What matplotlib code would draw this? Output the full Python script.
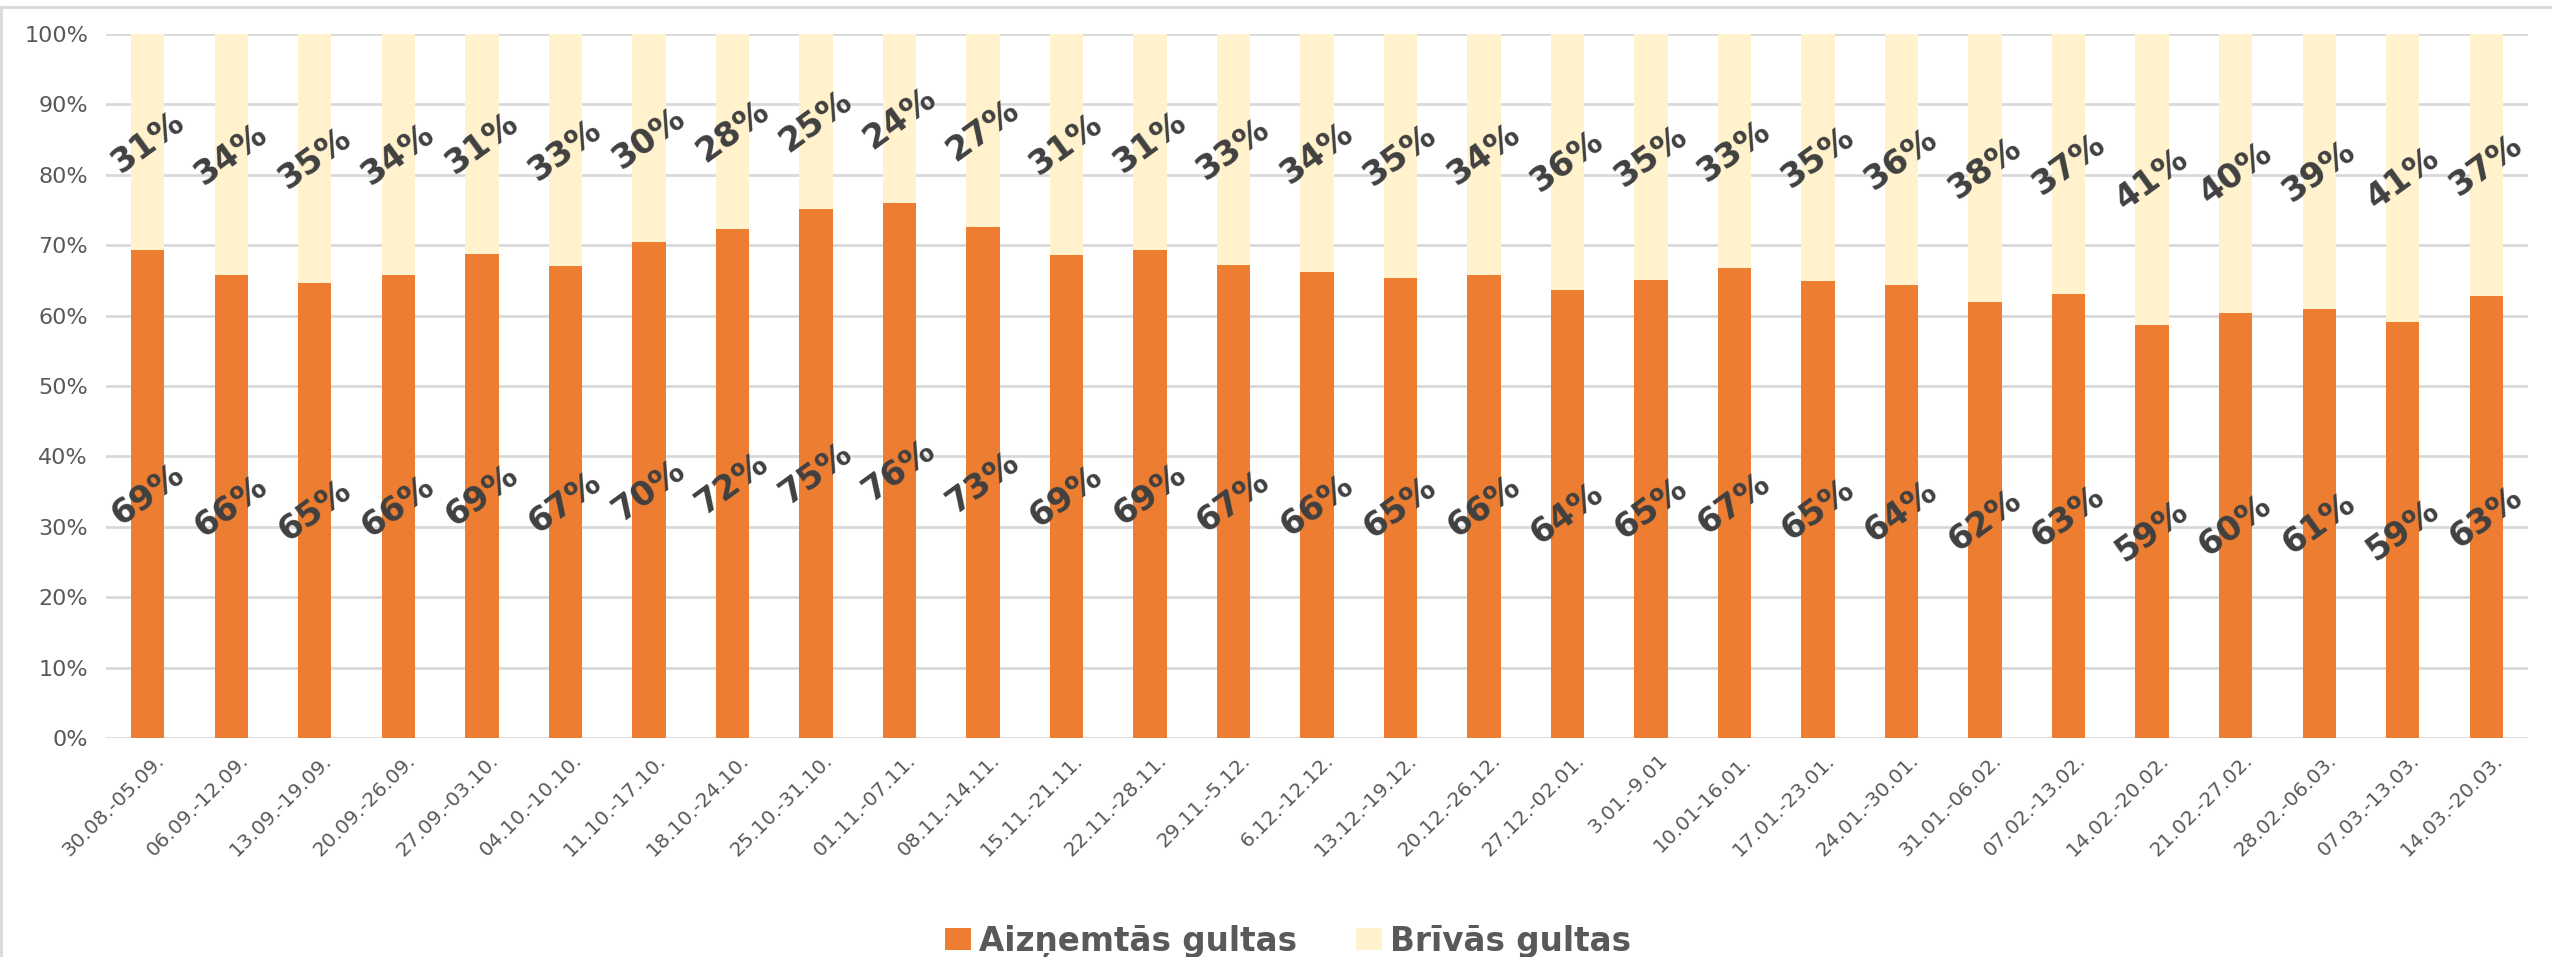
import matplotlib
matplotlib.use("Agg")
import matplotlib.pyplot as plt
import matplotlib.transforms as mtransforms
from matplotlib.patches import Rectangle, Patch
import numpy as np

categories = ["30.08.-05.09.", "06.09.-12.09.", "13.09.-19.09.", "20.09.-26.09.",
              "27.09.-03.10.", "04.10.-10.10.", "11.10.-17.10.", "18.10.-24.10.",
              "25.10.-31.10.", "01.11.-07.11.", "08.11.-14.11.", "15.11.-21.11.",
              "22.11.-28.11.", "29.11.-5.12.", "6.12.-12.12.", "13.12.-19.12.",
              "20.12.-26.12.", "27.12.-02.01.", "3.01.-9.01", "10.01-16.01.",
              "17.01.-23.01.", "24.01.-30.01.", "31.01.-06.02.", "07.02.-13.02.",
              "14.02.-20.02.", "21.02.-27.02.", "28.02.-06.03.", "07.03.-13.03.",
              "14.03.-20.03."]

occupied = [69.3, 65.8, 64.7, 65.8, 68.8, 67.0, 70.4, 72.3, 75.1, 76.0,
            72.6, 68.6, 69.3, 67.2, 66.2, 65.4, 65.8, 63.7, 65.1, 66.7,
            64.9, 64.4, 61.9, 63.0, 58.6, 60.3, 61.0, 59.1, 62.8]
free = [round(100 - v, 1) for v in occupied]

series_names = ["Aizņemtās gultas", "Brīvās gultas"]
colors = ["#ED7D31", "#FFF2CC"]

FONT = "DejaVu Sans"
plt.rcParams['font.family'] = [FONT]

W, H = 2552, 957
fig = plt.figure(figsize=(W / 100, H / 100), dpi=100)

# chart-area border
fig.patches.append(Rectangle((1 / W, -0.1), 1.2, 1 - 7 / H + 0.1, transform=fig.transFigure,
                             fill=False, edgecolor="#d9d9d9", linewidth=2, zorder=0))

ax = fig.add_axes([106 / W, 1 - 738 / H, (2528 - 106) / W, (738 - 34) / H])

x = np.arange(len(categories))
occ = np.array(occupied) / 100
fr = np.array(free) / 100
ax.bar(x, occ, width=0.4, color=colors[0], zorder=3, label=series_names[0])
ax.bar(x, fr, width=0.4, bottom=occ, color=colors[1], zorder=3, label=series_names[1])

ax.set_xlim(-0.5, len(categories) - 0.5)
ax.set_ylim(0, 1)
yt = np.arange(0, 1.01, 0.1)
ax.set_yticks(yt)
ax.set_yticklabels([f"{int(round(t * 100))}%" for t in yt])
ax.yaxis.grid(True, color="#d9d9d9", linewidth=2, zorder=0)
ax.set_axisbelow(True)
for s in ax.spines.values():
    s.set_visible(False)
ax.tick_params(axis='y', length=0, pad=13, labelsize=16, labelcolor="#595959")
ax.tick_params(axis='x', length=0, pad=9, labelsize=14.5, labelcolor="#595959")

ax.set_xticks(x)
ax.set_xticklabels(categories, rotation=45, ha='right', va='top', rotation_mode='anchor')
offset = mtransforms.ScaledTranslation(7 / 100, 0, fig.dpi_scale_trans)
for lab in ax.get_xticklabels():
    lab.set_transform(lab.get_transform() + offset)

# data labels
for i in range(len(categories)):
    ax.text(x[i], occ[i] / 2, f"{round(occupied[i])}%", rotation=36, rotation_mode='anchor',
            ha='center', va='center', fontsize=24.5, fontweight='bold', color="#404040", zorder=5)
    ax.text(x[i], occ[i] + fr[i] / 2, f"{round(free[i])}%", rotation=36, rotation_mode='anchor',
            ha='center', va='center', fontsize=24.5, fontweight='bold', color="#404040", zorder=5)

handles = [Patch(facecolor=colors[0]), Patch(facecolor=colors[1])]
leg = fig.legend(handles, series_names, loc='center', bbox_to_anchor=(1288 / W, 1 - 941 / H),
                 ncol=2, frameon=False, prop={'family': FONT, 'weight': 'bold', 'size': 23.5},
                 handlelength=0.8, handleheight=0.67, handletextpad=0.25, columnspacing=1.8,
                 borderpad=0)
for t in leg.get_texts():
    t.set_color("#595959")

fig.savefig("out.png", dpi=100)
